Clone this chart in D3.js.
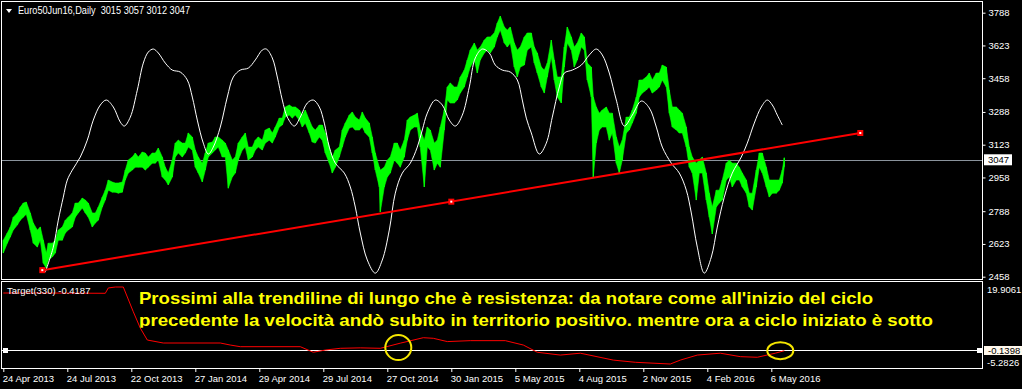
<!DOCTYPE html>
<html>
<head>
<meta charset="utf-8">
<script src="https://cdn.jsdelivr.net/npm/d3@7"></script>
<style>
  html, body { margin: 0; padding: 0; background: #000; }
  svg { display: block; }
  text { font-family: "Liberation Sans", Arial, sans-serif; }
</style>
</head>
<body>
<div id="chart"></div>
<script>
/* CONSTANTS AND GLOBALS */
const width = 1022, height = 389;
const panel = {left: 1.5, right: 982.5, top: 1.5, bottom: 279};
const sub = {top: 281.5, bottom: 368};

/* DATA */
const titleText = "Euro50Jun16,Daily  3015 3057 3012 3047";
const priceTicks = [3788, 3623, 3458, 3288, 3123, 2958, 2788, 2623, 2458];
const lastPrice = 3047;
const dateIdx = [0, 64, 128, 192, 256, 320, 384, 448, 512, 576, 640, 704, 768];
const dateLabels = ["24 Apr 2013", "24 Jul 2013", "22 Oct 2013", "27 Jan 2014", "29 Apr 2014",
  "29 Jul 2014", "27 Oct 2014", "30 Jan 2015", "5 May 2015", "4 Aug 2015", "2 Nov 2015",
  "4 Feb 2016", "6 May 2016"];

// [bar index, high, low]
const bars = [
  [0,2642,2577],[4,2678,2627],[7,2708,2658],[10,2758,2693],[14,2779,2718],[17,2809,2743],
  [20,2829,2758],[23,2834,2773],[27,2779,2693],[30,2728,2627],[34,2693,2607],[37,2708,2642],
  [40,2642,2526],[43,2577,2501],[45,2627,2542],[49,2627,2557],[52,2642,2577],[55,2693,2642],
  [59,2708,2642],[62,2743,2678],[65,2758,2693],[69,2779,2708],[72,2829,2758],[75,2829,2779],
  [79,2854,2804],[82,2844,2779],[85,2829,2758],[89,2779,2708],[92,2779,2728],[95,2809,2743],
  [99,2859,2809],[102,2894,2844],[105,2945,2894],[109,2935,2884],[112,2930,2884],[115,2930,2879],
  [119,2935,2884],[122,2995,2945],[125,3046,2980],[129,3061,2995],[132,3081,3010],[135,3061,3010],
  [139,3086,3010],[142,3081,2995],[145,3061,3010],[149,3081,3030],[152,3081,3030],[155,3106,3046],
  [159,3061,2960],[162,3010,2945],[165,2980,2920],[169,3046,2960],[172,3131,3061],[175,3146,3081],
  [179,3131,3061],[182,3131,3081],[185,3182,3111],[189,3162,3096],[192,3096,3010],[195,3061,2980],
  [199,3030,2935],[202,3081,2995],[205,3131,3061],[209,3136,3081],[212,3162,3096],[215,3162,3111],
  [219,3146,3061],[222,3131,3061],[225,3096,2904],[229,3046,2960],[232,3061,2980],[235,3131,3046],
  [239,3162,3096],[242,3182,3111],[245,3111,3046],[249,3111,3061],[252,3146,3096],[255,3162,3111],
  [259,3146,3096],[262,3197,3131],[266,3207,3146],[269,3182,3131],[272,3212,3162],[276,3257,3212],
  [279,3257,3222],[282,3313,3262],[286,3323,3272],[289,3313,3257],[292,3313,3272],[296,3298,3247],
  [299,3272,3212],[302,3298,3232],[306,3247,3182],[309,3212,3136],[312,3197,3131],[316,3222,3162],
  [319,3222,3146],[322,3182,3081],[326,3111,3030],[329,3061,2980],[332,3096,3010],[336,3111,3061],
  [339,3197,3111],[342,3232,3162],[346,3272,3207],[349,3288,3212],[352,3262,3197],[356,3247,3197],
  [359,3288,3212],[362,3257,3182],[366,3232,3162],[369,3162,3081],[372,3081,2995],[376,3010,2910],
  [377,2995,2784],[381,3010,2910],[384,3046,2960],[387,3061,2980],[391,3131,3046],[394,3131,3030],
  [397,3096,3010],[401,3146,3061],[404,3247,3146],[407,3262,3197],[411,3272,3212],[414,3282,3212],
  [417,3197,3111],[421,3146,2910],[424,3212,3111],[427,3197,3096],[431,3131,2995],[434,3146,3030],
  [437,3212,3010],[441,3298,3197],[444,3414,3348],[447,3434,3333],[451,3414,3333],[454,3414,3348],
  [457,3464,3383],[461,3499,3414],[464,3550,3464],[467,3600,3514],[471,3635,3550],[474,3600,3484],
  [477,3615,3550],[481,3650,3585],[484,3666,3600],[487,3666,3585],[491,3686,3615],[494,3736,3666],
  [497,3771,3701],[501,3716,3635],[504,3701,3615],[507,3716,3635],[511,3635,3514],[514,3600,3464],
  [517,3615,3514],[521,3666,3524],[524,3686,3600],[528,3686,3615],[531,3615,3534],[534,3585,3484],
  [538,3514,3414],[541,3499,3383],[544,3534,3464],[548,3650,3565],[551,3550,3449],[554,3464,3363],
  [558,3464,3333],[561,3615,3514],[564,3716,3635],[568,3666,3600],[571,3615,3514],[574,3635,3550],
  [578,3686,3615],[581,3666,3600],[584,3534,3449],[588,3514,3363],[590,3363,2960],[593,3313,3131],
  [596,3282,3197],[599,3298,3212],[603,3313,3212],[606,3282,3146],[609,3282,3182],[613,3162,3030],
  [616,3111,2980],[619,3146,3046],[623,3262,3182],[626,3262,3197],[629,3298,3232],[633,3363,3282],
  [636,3449,3363],[639,3449,3383],[643,3464,3398],[646,3484,3414],[649,3449,3383],[653,3484,3398],
  [656,3484,3414],[659,3524,3449],[663,3514,3414],[666,3398,3282],[669,3313,3212],[673,3313,3197],
  [676,3298,3182],[679,3282,3182],[683,3212,3111],[686,3111,3010],[689,3061,2980],[693,3030,2844],
  [696,3046,2980],[699,3061,2980],[703,2980,2844],[706,2879,2758],[709,2809,2673],[713,2894,2809],
  [716,2894,2829],[719,2945,2844],[723,3030,2945],[726,3046,2960],[729,3030,2910],[733,3030,2945],
  [736,3010,2945],[739,2980,2910],[743,2945,2879],[746,2879,2809],[749,2879,2794],[753,2995,2910],
  [756,3081,3010],[759,3081,2980],[763,3010,2910],[766,2945,2859],[769,2945,2879],[773,2945,2879],
  [776,2945,2894],[779,2995,2930],[781,3057,3012]
];

// white cycle curve [bar index, price]
const cycle = [
  [42,2481],[50,2607],[55,2743],[60,2859],[64,2945],[69,2995],[77,3061],[84,3146],[90,3247],
  [97,3323],[103,3348],[110,3313],[117,3237],[121,3217],[127,3262],[134,3398],[140,3534],
  [145,3590],[150,3605],[155,3585],[162,3534],[169,3499],[177,3489],[184,3449],[189,3363],
  [194,3247],[200,3131],[205,3076],[210,3111],[217,3212],[224,3363],[230,3464],[237,3499],
  [245,3509],[252,3550],[259,3600],[263,3605],[269,3560],[274,3464],[279,3348],[284,3262],
  [291,3217],[297,3262],[304,3333],[310,3348],[316,3313],[321,3232],[326,3111],[332,3030],
  [341,2980],[347,2910],[352,2809],[357,2678],[364,2542],[372,2476],[379,2542],[386,2693],
  [392,2879],[399,2980],[407,3030],[414,3111],[419,3197],[424,3282],[432,3348],[439,3323],
  [446,3247],[452,3217],[459,3272],[466,3414],[472,3560],[479,3605],[486,3585],[492,3524],
  [499,3499],[507,3489],[514,3449],[519,3348],[523,3257],[528,3182],[536,3076],[543,3131],
  [549,3262],[556,3414],[561,3484],[569,3499],[578,3524],[586,3575],[593,3605],[599,3575],
  [606,3484],[613,3348],[621,3217],[629,3272],[638,3343],[646,3308],[653,3212],[659,3111],
  [668,3030],[676,2980],[683,2894],[688,2779],[694,2607],[701,2476],[708,2557],[714,2708],
  [721,2859],[729,2980],[738,3061],[744,3131],[751,3232],[758,3313],[764,3348],[769,3323],
  [774,3272],[779,3222]
];

// red trendline anchors [bar index, price]
const trend = [[39,2491],[448,2836],[857,3182]];

// Target(330) indicator [bar index, value]
const target = [
  [0,17.99],[34,17.99],[102,17.9],[105,19.6],[112,19.9],[120,19.9],[130,12.0],[137,6.8],
  [144,3.0],[160,2.05],[217,2.05],[227,1.4],[237,0.87],[297,0.87],[307,-0.5],[310,-0.9],
  [322,-0.2],[337,0.36],[357,0.5],[377,0.36],[397,2.0],[420,3.74],[430,3.55],[444,2.5],
  [467,2.8],[502,2.8],[520,1.4],[534,-0.9],[557,-1.8],[577,-1.2],[610,-3.4],[632,-4.1],
  [667,-4.65],[677,-3.4],[694,-1.8],[717,-1.2],[737,-2.3],[754,-2.5],[772,-1.2],[781,-0.42]
];
const targetMax = 19.9061, targetMin = -5.2826, targetLevel = -0.1398, targetLast = -0.4187;
const circleIdx = [395, 777];
const circleVal = [0.6, -0.4];

const noteLines = [
  "Prossimi alla trendiline di lungo che è resistenza: da notare come all'inizio del ciclo",
  "precedente la velocità andò subito in territorio positivo. mentre ora a ciclo iniziato è sotto"
];

/* SCALES */
const xScale = d3.scaleLinear().domain([0, 979]).range([3.3, 982.3]);
const yScale = d3.scaleLinear().domain([2458, 3788]).range([276.7, 12.7]);
const yInd = d3.scaleLinear().domain([targetMin, targetMax]).range([366, 287]);

/* ELEMENTS */
const svg = d3.select("#chart").append("svg")
  .attr("width", width)
  .attr("height", height)
  .style("background", "#000");

const defs = svg.append("defs");
defs.append("clipPath").attr("id", "mainClip")
  .append("rect").attr("x", 2).attr("y", 2).attr("width", 980).attr("height", 276.5);
defs.append("clipPath").attr("id", "subClip")
  .append("rect").attr("x", 2).attr("y", 282).attr("width", 980).attr("height", 85.5);
defs.append("clipPath").attr("id", "noteClip")
  .append("rect").attr("x", 2).attr("y", 282).attr("width", 980).attr("height", 45.8);

// frames
svg.append("rect")
  .attr("x", panel.left).attr("y", panel.top)
  .attr("width", panel.right - panel.left).attr("height", panel.bottom - panel.top)
  .attr("fill", "none").attr("stroke", "#fff").attr("shape-rendering", "crispEdges");
svg.append("rect")
  .attr("x", panel.left).attr("y", sub.top)
  .attr("width", panel.right - panel.left).attr("height", sub.bottom - sub.top)
  .attr("fill", "none").attr("stroke", "#fff").attr("shape-rendering", "crispEdges");

const main = svg.append("g").attr("clip-path", "url(#mainClip)");

// last price line
main.append("line")
  .attr("x1", 2).attr("x2", 982)
  .attr("y1", Math.round(yScale(lastPrice)) + 0.5).attr("y2", Math.round(yScale(lastPrice)) + 0.5)
  .attr("stroke", "#8a939c").attr("shape-rendering", "crispEdges");

// price bars as high/low ribbon
main.append("path")
  .datum(bars)
  .attr("fill", "#00ff00")
  .attr("stroke", "#00ff00")
  .attr("stroke-width", 0.6)
  .attr("d", d3.area()
    .x(d => xScale(d[0]))
    .y0(d => yScale(d[2]))
    .y1(d => yScale(d[1])));

main.selectAll("line.bar")
  .data(bars)
  .join("line")
  .attr("class", "bar")
  .attr("x1", d => xScale(d[0])).attr("x2", d => xScale(d[0]))
  .attr("y1", d => yScale(d[1])).attr("y2", d => yScale(d[2]))
  .attr("stroke", "#00ff00").attr("stroke-width", 1.2);

// cycle curve
main.append("path")
  .datum(cycle)
  .attr("fill", "none")
  .attr("stroke", "#fff")
  .attr("stroke-width", 1)
  .attr("d", d3.line()
    .x(d => xScale(d[0]))
    .y(d => yScale(d[1]))
    .curve(d3.curveCatmullRom));

// trendline
main.append("line")
  .attr("x1", xScale(trend[0][0])).attr("y1", yScale(trend[0][1]))
  .attr("x2", xScale(trend[2][0])).attr("y2", yScale(trend[2][1]))
  .attr("stroke", "#ff0000").attr("stroke-width", 2);

main.selectAll("rect.anchor")
  .data(trend)
  .join("rect")
  .attr("class", "anchor")
  .attr("x", d => xScale(d[0]) - 3).attr("y", d => yScale(d[1]) - 3)
  .attr("width", 6).attr("height", 6)
  .attr("fill", "#ff0000");
main.selectAll("rect.anchor-in")
  .data(trend)
  .join("rect")
  .attr("class", "anchor-in")
  .attr("x", d => xScale(d[0]) - 1).attr("y", d => yScale(d[1]) - 1)
  .attr("width", 2).attr("height", 2)
  .attr("fill", "#fff");

// title
svg.append("path")
  .attr("d", "M6,9 L12,9 L9,13 Z")
  .attr("fill", "#fff");
svg.append("text")
  .attr("x", 18).attr("y", 14)
  .attr("fill", "#fff")
  .attr("font-size", "10.5px")
  .attr("textLength", 172)
  .attr("lengthAdjust", "spacingAndGlyphs")
  .style("white-space", "pre")
  .text(titleText);

// price axis
const yAxis = svg.append("g")
  .attr("transform", `translate(${panel.right},0)`)
  .call(d3.axisRight(yScale).tickValues(priceTicks).tickSize(3).tickPadding(3).tickFormat(d3.format("d")));
yAxis.select(".domain").remove();
yAxis.selectAll("line").attr("stroke", "#fff");
yAxis.selectAll("text").attr("fill", "#fff").attr("font-size", "9.5px")
  .attr("font-family", "Liberation Sans, Arial, sans-serif");

// last price box
svg.append("rect")
  .attr("x", 984).attr("y", yScale(lastPrice) - 5.5)
  .attr("width", 28).attr("height", 11)
  .attr("fill", "#fff");
svg.append("text")
  .attr("x", 988).attr("y", yScale(lastPrice) + 3.5)
  .attr("fill", "#000").attr("font-size", "9.5px")
  .text(lastPrice);

/* SUB WINDOW */
const subG = svg.append("g").attr("clip-path", "url(#subClip)");

const levelY = Math.round(yInd(targetLevel)) + 0.5;
subG.append("line")
  .attr("x1", 2).attr("x2", 982).attr("y1", levelY).attr("y2", levelY)
  .attr("stroke", "#fff").attr("shape-rendering", "crispEdges");
subG.append("rect").attr("x", 3).attr("y", levelY - 2.5).attr("width", 5).attr("height", 5).attr("fill", "#fff");
subG.append("rect").attr("x", 977).attr("y", levelY - 2.5).attr("width", 5).attr("height", 5).attr("fill", "#fff");

subG.append("path")
  .datum(target)
  .attr("fill", "none")
  .attr("stroke", "#ff0000")
  .attr("stroke-width", 1)
  .attr("d", d3.line()
    .x(d => xScale(d[0]))
    .y(d => yInd(d[1])));

subG.append("text")
  .attr("x", 7).attr("y", 294)
  .attr("fill", "#fff").attr("font-size", "9.5px")
  .text(`Target(330) ${targetLast}`);

// note text
const note = svg.append("g").attr("clip-path", "url(#noteClip)");
note.selectAll("text")
  .data(noteLines)
  .join("text")
  .attr("x", 139)
  .attr("y", (d, i) => [303.5, 325.5][i])
  .attr("textLength", (d, i) => [734, 794][i])
  .attr("lengthAdjust", "spacingAndGlyphs")
  .attr("fill", "#ffff00")
  .attr("font-size", "17px")
  .attr("font-weight", "bold")
  .text(d => d);

// circles
svg.selectAll("ellipse.mark")
  .data(circleIdx)
  .join("ellipse")
  .attr("class", "mark")
  .attr("cx", d => xScale(d))
  .attr("cy", (d, i) => yInd(circleVal[i]))
  .attr("rx", 13)
  .attr("ry", (d, i) => [12.5, 8.5][i])
  .attr("fill", "none")
  .attr("stroke", "#f5e600")
  .attr("stroke-width", 2);

// sub window scale labels
svg.append("text")
  .attr("x", 987).attr("y", 292.5)
  .attr("fill", "#fff").attr("font-size", "9.5px")
  .text(targetMax.toFixed(4));
svg.append("text")
  .attr("x", 987).attr("y", 365.5)
  .attr("fill", "#fff").attr("font-size", "9.5px")
  .text(targetMin.toFixed(4));
svg.append("rect")
  .attr("x", 984).attr("y", levelY - 4.5)
  .attr("width", 38).attr("height", 9)
  .attr("fill", "#fff8ec");
svg.append("text")
  .attr("x", 988).attr("y", levelY + 3)
  .attr("fill", "#000").attr("font-size", "9.5px")
  .text(targetLevel.toFixed(4));

/* DATE AXIS */
const xAxis = svg.append("g")
  .attr("transform", `translate(0,${sub.bottom})`)
  .call(d3.axisBottom(xScale).tickValues(dateIdx).tickSize(4).tickPadding(3)
    .tickFormat((d, i) => dateLabels[i]));
xAxis.select(".domain").remove();
xAxis.selectAll("line").attr("stroke", "#fff");
xAxis.selectAll("text")
  .attr("fill", "#fff")
  .attr("font-size", "9.5px")
  .attr("font-family", "Liberation Sans, Arial, sans-serif")
  .attr("text-anchor", "start")
  .attr("dx", -1);
</script>
</body>
</html>
